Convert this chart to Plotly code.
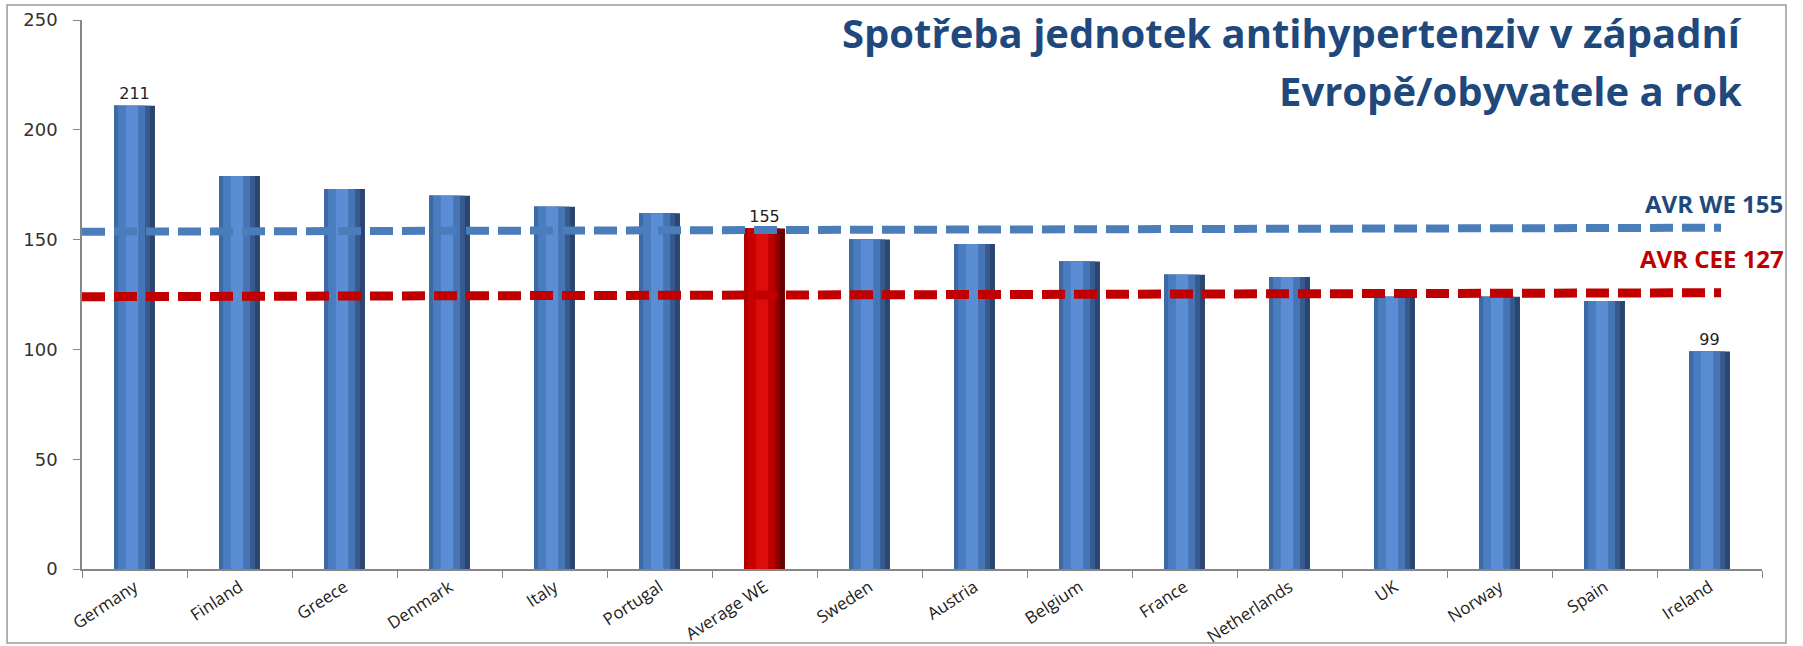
import plotly.graph_objects as go

# ---------------- data ----------------
categories = ["Germany", "Finland", "Greece", "Denmark", "Italy", "Portugal",
              "Average WE", "Sweden", "Austria", "Belgium", "France",
              "Netherlands", "UK", "Norway", "Spain", "Ireland"]
values = [211, 179, 173, 170, 165, 162, 155, 150, 148, 140, 134, 133, 124, 124, 122, 99]
shown_labels = ["211", "", "", "", "", "", "155", "", "", "", "", "", "", "", "", "99"]
highlight = "Average WE"

we_label = "AVR WE 155"
cee_label = "AVR CEE 127"
we_line = [153.6, 155.4]    # drawn dashed line (start, end)
cee_line = [124.0, 125.8]

title_lines = ["Spotřeba jednotek antihypertenziv v západní", "Evropě/obyvatele a rok"]
y_ticks = [0, 50, 100, 150, 200, 250]

# ---------------- style ----------------
BAR_W = 0.39
blue_layers = [  # (fraction of bar width, colour), painted wide -> narrow, left aligned
    (1.00, "#2A4670"),
    (0.88, "#365A8E"),
    (0.76, "#4575B4"),
    (0.59, "#5A8DD4"),
    (0.29, "#4A7CC0"),
    (0.10, "#3D69A5"),
]
red_layers = ["#6A0000", "#8C0000", "#BC0000", "#DC0D0D", "#C80000", "#B00000"]

fig = go.Figure()
for i, (frac, col) in enumerate(blue_layers):
    colors = [red_layers[i] if c == highlight else col for c in categories]
    kw = {}
    if i == 0:
        kw = dict(text=shown_labels, textposition="outside",
                  textfont=dict(family="DejaVu Sans", size=16, color="#222222"),
                  cliponaxis=False)
    fig.add_trace(go.Bar(
        x=categories, y=values,
        width=BAR_W * frac, offset=-BAR_W / 2,
        marker=dict(color=colors, line=dict(width=0)),
        hoverinfo="x+y", **kw))

n = len(categories)
x_start, x_end = -0.5, n - 0.89
for ys, col, w in [(we_line, "#4A7EBB", 8), (cee_line, "#C00000", 9)]:
    fig.add_shape(type="line", xref="x", yref="y",
                  x0=x_start, x1=x_end, y0=ys[0], y1=ys[1],
                  line=dict(color=col, width=w, dash="23px,9px"), layer="above")

# frame around the chart
fig.add_shape(type="rect", xref="paper", yref="paper",
              x0=-0.0446, x1=1.0143, y0=-0.135, y1=1.0273,
              line=dict(color="#9A9A9A", width=1.5), layer="below")

title_font = dict(family="Liberation Sans Narrow, Open Sans, sans-serif", size=40, color="#1F497D")
fig.add_annotation(xref="paper", yref="paper", x=0.989, y=0.978, xanchor="right", yanchor="middle",
                   text="<b>%s</b>" % title_lines[0], showarrow=False, font=title_font)
fig.add_annotation(xref="paper", yref="paper", x=0.989, y=0.872, xanchor="right", yanchor="middle",
                   text="<b>%s</b>" % title_lines[1], showarrow=False, font=title_font)

lab_font = "Liberation Sans Narrow, Open Sans, sans-serif"
fig.add_annotation(xref="paper", yref="paper", x=1.0137, y=0.665, xanchor="right", yanchor="middle",
                   text="<b>%s</b>" % we_label, showarrow=False,
                   font=dict(family=lab_font, size=24, color="#1F497D"))
fig.add_annotation(xref="paper", yref="paper", x=1.0143, y=0.565, xanchor="right", yanchor="middle",
                   text="<b>%s</b>" % cee_label, showarrow=False,
                   font=dict(family=lab_font, size=24, color="#C00000"))

fig.update_layout(
    width=1803, height=646,
    margin=dict(l=82, r=41, t=20, b=77, autoexpand=False),
    paper_bgcolor="white", plot_bgcolor="white",
    barmode="overlay", showlegend=False,
    xaxis=dict(type="category", tickson="boundaries", ticks="outside", ticklen=7,
               tickcolor="#868686", showline=True, linecolor="#868686", linewidth=1.5,
               tickangle=-33, range=[-0.5, n - 0.5], showgrid=False,
               tickfont=dict(family="Open Sans", size=17, color="#222222")),
    yaxis=dict(range=[0, 250], tickvals=y_ticks, ticks="outside", ticklen=7,
               tickcolor="#868686", showline=True, linecolor="#868686", linewidth=1.5,
               showgrid=False, zeroline=False, ticklabelstandoff=12,
               tickfont=dict(family="DejaVu Sans", size=18, color="#333333")),
)

fig.write_html("out.html", config={"displayModeBar": False},
               post_script="document.body.style.margin='0';")
